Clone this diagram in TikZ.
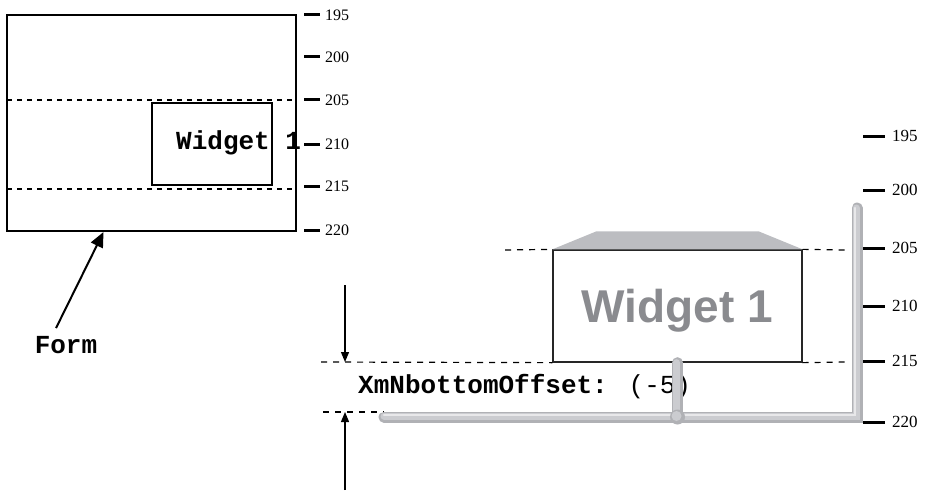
\documentclass[tikz,border=0pt]{standalone}
\usepackage{fontspec}
\setmainfont{Liberation Serif}
\newfontfamily\codefont{Liberation Mono}
\newfontfamily\widgetfont{Liberation Sans}
\usetikzlibrary{arrows.meta,positioning,calc}
\definecolor{pipegray}{RGB}{176,177,181}
\definecolor{pipemid}{RGB}{203,204,208}
\definecolor{pipelight}{RGB}{232,232,234}
\definecolor{capgray}{RGB}{188,189,193}
\definecolor{labelgray}{RGB}{138,139,143}

\begin{document}
\begin{tikzpicture}[
  x=1pt,y=-1pt,
  formbox/.style={draw,line width=2pt,inner sep=0pt},
  guide/.style={line width=2pt,dash pattern=on 5pt off 5pt},
  dimline/.style={line width=1.2pt,dash pattern=on 6pt off 6pt},
  tickmark/.style={line width=3pt},
  ticklabel/.style={anchor=west,inner sep=0pt,font=\fontsize{16}{16}\selectfont},
  bigtick/.style={anchor=west,inner sep=0pt,font=\fontsize{17}{17}\selectfont},
  code/.style={inner sep=0pt,font=\codefont\bfseries\fontsize{26}{26}\selectfont},
  pointer/.style={-{Triangle[length=15pt,width=13pt]},line width=2pt},
  measure/.style={-{Triangle[length=10pt,width=8pt]},line width=1.2pt},
  pipe/.style={line width=11pt,draw=pipegray,line cap=round,line join=miter},
  pipecore/.style={line width=7pt,draw=pipemid,line cap=round,line join=miter},
  pipeglint/.style={line width=2.5pt,draw=pipelight,line cap=round,line join=miter}
]
  \useasboundingbox (0,0) rectangle (925,492);

  % left: form with widget
  \node[formbox,minimum width=289pt,minimum height=216pt] (form) at (151.5,123) {};
  \draw[guide] (7,100) -- (296,100);
  \draw[guide] (7,189) -- (296,189);
  \node[formbox,minimum width=120pt,minimum height=82pt] (smallwidget) at (212,144) {};
  \node[code,anchor=base west] (smalltext) at (176,149) {Widget 1};
  \foreach \lab/\y in {195/15,200/57,205/100,210/144,215/186,220/230}{
    \draw[tickmark] (304,\y) -- (320,\y);
    \node[ticklabel] at (325,\y) {\lab};
  }
  \node[code] (formlabel) at (66,345) {Form};
  \draw[pointer] ([xshift=-10pt,yshift=8pt]formlabel.north) -- ([xshift=-48pt]form.south);

  % right: widget with attachment
  \node[draw=black!85,line width=1.3pt,minimum width=249pt,minimum height=112pt,
    text depth=0pt,text=labelgray,font=\widgetfont\bfseries\fontsize{46}{46}\selectfont]
    (bigwidget) at (677.5,306) {Widget 1};
  \fill[capgray] (bigwidget.north west) -- ([xshift=44pt,yshift=18pt]bigwidget.north west)
    -- ([xshift=-44pt,yshift=18pt]bigwidget.north east) -- (bigwidget.north east) -- cycle;
  \draw[dimline] (505,250) -- (bigwidget.north west);
  \draw[dimline] (bigwidget.north east) -- (845,250);
  \draw[dimline] (321,362) -- (bigwidget.south west);
  \draw[dimline] (bigwidget.south east) -- (845,362);
  \coordinate (pipeleft) at (384,417);
  \coordinate (pipecorner) at (857,417);
  \coordinate (pipetop) at (857,208);
  \coordinate (joint) at (677.5,417);
  \draw[dimline] (323,412) -- ([yshift=5pt]pipeleft);
  \coordinate (downstart) at (345,285);
  \coordinate (upstart) at (345,490);
  \draw[measure] (downstart) -- (345,362);
  \draw[measure] (upstart) -- (345,412);
  \node[code,anchor=base west] (offsetlabel) at (358,393)
    {XmNbottomOffset: {\mdseries(-5)}};
  \foreach \lab/\y in {195/136,200/190,205/248,210/306,215/361,220/422}{
    \draw[tickmark] (863,\y) -- (885,\y);
    \node[bigtick] at (892,\y) {\lab};
  }

  % pipes
  \draw[pipe] (bigwidget.south) -- (joint);
  \draw[pipecore] ([xshift=-1pt]bigwidget.south) -- ([xshift=-1pt]joint);
  \draw[pipe] (pipeleft) -- (pipecorner) -- (pipetop);
  \draw[pipecore] ([yshift=1pt]pipeleft) -- ([xshift=-1pt,yshift=1pt]pipecorner) -- ([xshift=-1pt]pipetop);
  \draw[pipeglint] ([yshift=2pt]pipeleft) -- ([xshift=-2pt,yshift=2pt]pipecorner) -- ([xshift=-2pt]pipetop);
  \fill[pipegray] (joint) circle (7.5pt);
  \fill[pipemid] ([xshift=-1pt,yshift=1pt]joint) circle (5pt);
\end{tikzpicture}
\end{document}
